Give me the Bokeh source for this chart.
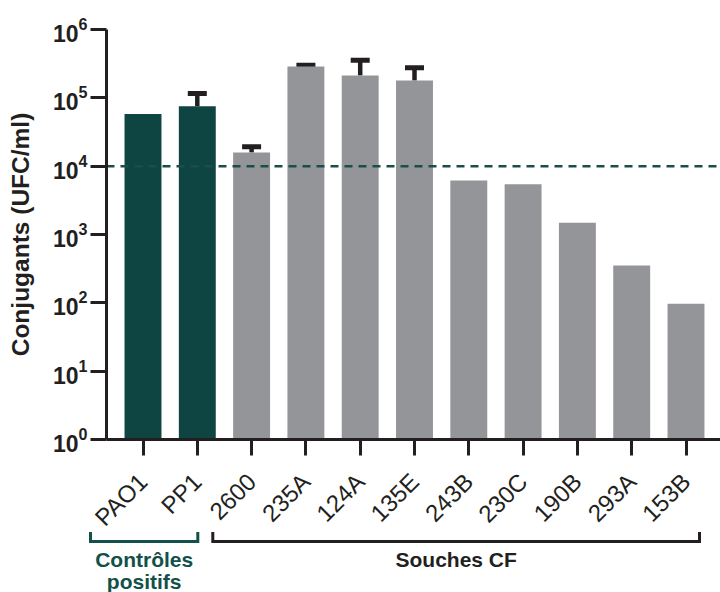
import math
from bokeh.plotting import figure
from bokeh.models import (Range1d, FixedTicker, Whisker, TeeHead, ColumnDataSource)
from bokeh.core.properties import value
from bokeh.embed import file_html
from bokeh.resources import INLINE

# ---- data ----
strains = ["PAO1", "PP1", "2600", "235A", "124A", "135E", "243B", "230C", "190B", "293A", "153B"]
conjugants = [5.8e4, 7.5e4, 1.58e4, 2.87e5, 2.12e5, 1.79e5, 6150, 5430, 1490, 351, 97]
upper_err = [0, 1.16e5, 1.92e4, 2.99e5, 3.55e5, 2.75e5, 0, 0, 0, 0, 0]
group = ["ctrl", "ctrl"] + ["cf"] * 9
threshold = 1e4
y_ticks = [1, 10, 100, 1000, 1e4, 1e5, 1e6]
group_names = ["Contrôles", "positifs", "Souches CF"]

# ---- style / layout (canvas pixels) ----
GREEN = "#0e4441"
BR_GREEN = "#135049"
GRAY = "#939598"
INK = "#231f20"
FONT = "Liberation Sans"

W, H = 720, 592
TOP = 29              # top of the value axis (10^6)
AXIS_X = 106          # y axis position
AXIS_Y = 439          # x axis position (10^0)
PPU = 54.3            # pixels per category
C0 = 142.5            # x of first category centre
DEC_PX = (AXIS_Y - TOP) / 6.0


def xdat(px):
    return (px - C0) / PPU


def ydat(py):
    return 10 ** (-(py - AXIS_Y) / DEC_PX)


x_idx = list(range(len(strains)))
colors = [GREEN if g == "ctrl" else GRAY for g in group]

p = figure(width=W, height=H, output_backend="svg", toolbar_location=None,
           y_axis_type="log",
           x_range=Range1d(xdat(0), xdat(W)),
           y_range=Range1d(ydat(H), ydat(0)),
           min_border_left=0, min_border_top=0,
           min_border_bottom=0, min_border_right=0)
p.outline_line_color = None
p.grid.visible = False
p.background_fill_color = "white"

src = ColumnDataSource(dict(x=x_idx, top=conjugants, color=colors))
p.vbar(x="x", top="top", bottom=1, width=0.68, source=src,
       fill_color="color", line_color=None)

ex = [x for x, e in zip(x_idx, upper_err) if e > 0]
el = [c for c, e in zip(conjugants, upper_err) if e > 0]
eu = [e for e in upper_err if e > 0]
esrc = ColumnDataSource(dict(x=ex, lower=el, upper=eu))
p.add_layout(Whisker(base="x", lower="lower", upper="upper", source=esrc,
                     line_color=INK, line_width=4.5, lower_head=None,
                     upper_head=TeeHead(size=19, line_width=5, line_color=INK)))

# threshold line
p.segment(x0=[xdat(AXIS_X)], x1=[xdat(W)], y0=[threshold], y1=[threshold],
          line_color="#1b4e4b", line_width=2.5, line_dash="8 6")

# axes, drawn at fixed positions inside the frame
p.xaxis.fixed_location = 1
p.xaxis.bounds = (xdat(AXIS_X), xdat(W))
p.yaxis.fixed_location = xdat(AXIS_X)
p.yaxis.bounds = (1, 1e6)
for ax in (p.xaxis[0], p.yaxis[0]):
    ax.axis_line_width = 3
    ax.axis_line_color = INK
    ax.major_tick_line_width = 3
    ax.major_tick_line_color = INK
    ax.major_tick_out = 16
    ax.major_tick_in = 0
    ax.minor_tick_line_color = None
    ax.major_label_text_color = INK
    ax.major_label_text_font = FONT

p.xaxis.ticker = FixedTicker(ticks=x_idx)
p.xaxis.major_label_overrides = {i: s for i, s in zip(x_idx, strains)}
p.xaxis.major_label_orientation = math.pi / 4
p.xaxis.major_label_text_font_size = "24px"
p.xaxis.major_label_standoff = 22

p.yaxis.ticker = FixedTicker(ticks=y_ticks)
p.yaxis.major_label_text_font_size = "23px"
p.yaxis.major_label_text_font_style = "bold"
p.yaxis.major_label_standoff = 3
p.yaxis.axis_label = "Conjugants (UFC/ml)"
p.yaxis.axis_label_text_font = FONT
p.yaxis.axis_label_text_font_size = "24.5px"
p.yaxis.axis_label_text_font_style = "bold"
p.yaxis.axis_label_text_color = INK
p.yaxis.axis_label_standoff = 16

# ---- group brackets below the axis ----
brackets = [(xdat(90), xdat(197.3), BR_GREEN), (xdat(212.3), xdat(699), INK)]
BR_TOP, BR_LINE = 531.5, 541
p.multi_line(xs=[[a, a, b, b] for a, b, _ in brackets],
             ys=[[ydat(BR_TOP), ydat(BR_LINE), ydat(BR_LINE), ydat(BR_TOP)]] * 2,
             line_color=[c for _, _, c in brackets], line_width=3, line_join="miter")

gx0 = (brackets[0][0] + brackets[0][1]) / 2
gx1 = (brackets[1][0] + brackets[1][1]) / 2
txt_kw = dict(text_font=value(FONT), text_font_style="bold", text_font_size="21px",
              text_align="center", text_baseline="alphabetic")
p.text(x=[gx0, gx0], y=[ydat(559), ydat(581)], text=group_names[:2],
       text_color=BR_GREEN, **txt_kw)
p.text(x=[gx1], y=[ydat(559)], text=group_names[2:], text_color=INK, **txt_kw)

open("out.html", "w").write(file_html(p, INLINE))
